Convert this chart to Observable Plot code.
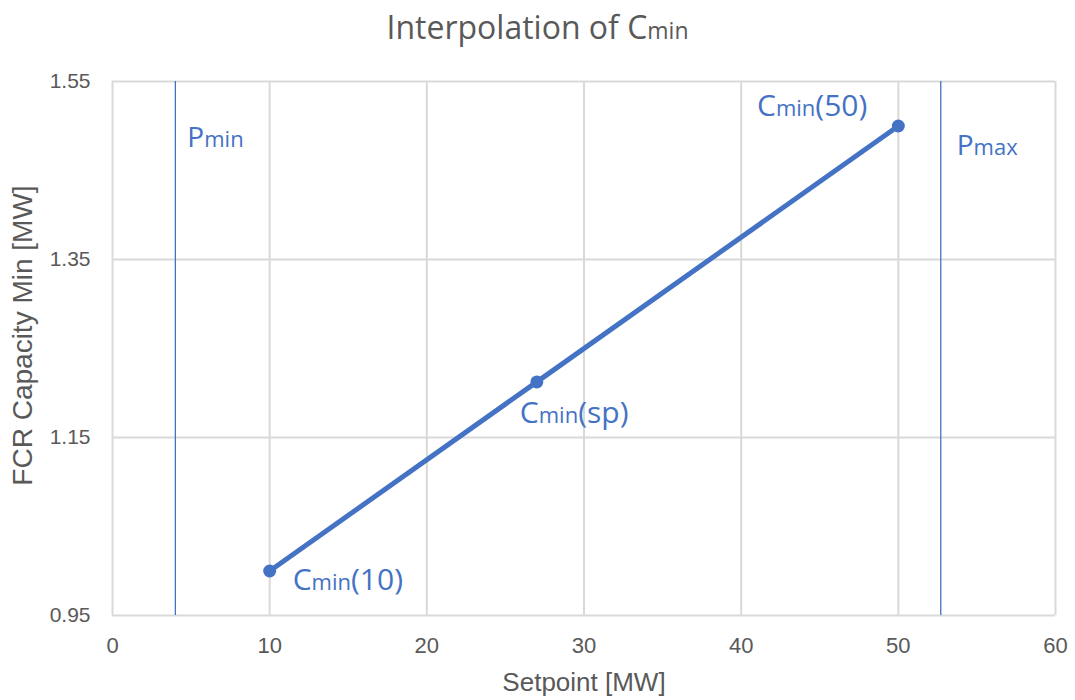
<!DOCTYPE html>
<html>
<head>
<meta charset="utf-8">
<script src="https://cdn.jsdelivr.net/npm/d3@7"></script>
<script src="https://cdn.jsdelivr.net/npm/@observablehq/plot@0.6"></script>
<style>
  html, body { margin: 0; padding: 0; background: #fff; }
  #title { height: 60px; width: 1075px; text-align: center; font-family: "Open Sans", "Noto Sans", sans-serif; font-size: 32px; color: #595959; line-height: 54px; }
  #title .sub { font-size: 23px; }
</style>
</head>
<body>
<div id="title">Interpolation of C<span class="sub">min</span></div>
<div id="chart"></div>
<script>
// Data
const setpoints = [10, 27, 50];
const cmin = [1.0, 1.2125, 1.5];
const pointLabels = ["Cmin(10)", "Cmin(sp)", "Cmin(50)"];
const limitX = [4, 52.7];
const limitLabels = ["Pmin", "Pmax"];
const limitLabelY = [1.487, 1.478];
const xTicks = [0, 10, 20, 30, 40, 50, 60];
const yTicks = [0.95, 1.15, 1.35, 1.55];
const title = "Interpolation of Cmin";
const xLabel = "Setpoint [MW]";
const yLabel = "FCR Capacity Min [MW]";

const pts = setpoints.map((x, i) => ({x, y: cmin[i], label: pointLabels[i]}));
const lims = limitX.map((x, i) => ({x, y: limitLabelY[i], label: limitLabels[i]}));

const blue = "#4472C4";
const grey = "#595959";
const labelFont = "'Open Sans', 'Noto Sans', sans-serif";
const axisFont = "'Liberation Sans', Arial, sans-serif";

const chart = Plot.plot({
  width: 1075,
  height: 640,
  marginTop: 21,
  marginBottom: 85,
  marginLeft: 112,
  marginRight: 20,
  style: {background: "#fff", overflow: "visible"},
  x: {domain: [0, 60], ticks: xTicks, label: null},
  y: {domain: [0.95, 1.55], ticks: yTicks, label: null},
  marks: [
    Plot.gridX(xTicks, {stroke: "#d9d9d9", strokeOpacity: 1, strokeWidth: 2}),
    Plot.gridY(yTicks, {stroke: "#d9d9d9", strokeOpacity: 1, strokeWidth: 2}),
    Plot.axisX(xTicks, {tickSize: 0, tickPadding: 22, fontSize: 22, fill: grey, tickFormat: d => String(d),
      fontFamily: axisFont, label: null}),
    Plot.axisY(yTicks, {tickSize: 0, tickPadding: 22, fontSize: 21, fill: grey, tickFormat: d => d.toFixed(2),
      fontFamily: axisFont, label: null}),
    Plot.ruleX(lims, {x: "x", stroke: blue, strokeWidth: 1.3}),
    Plot.line(pts, {x: "x", y: "y", stroke: blue, strokeWidth: 5}),
    Plot.dot(pts, {x: "x", y: "y", fill: blue, r: 6.5}),
    Plot.text([lims[0]], {x: "x", y: "y", text: "label", textAnchor: "start", dx: 12, fill: blue, fontSize: 28, fontFamily: labelFont}),
    Plot.text([lims[1]], {x: "x", y: "y", text: "label", textAnchor: "start", dx: 16, fill: blue, fontSize: 28, fontFamily: labelFont}),
    Plot.text([pts[0]], {x: "x", y: "y", text: "label", textAnchor: "start", dx: 23, dy: 9, fill: blue, fontSize: 30, fontFamily: labelFont}),
    Plot.text([pts[1]], {x: "x", y: "y", text: "label", textAnchor: "start", dx: -17, dy: 32, fill: blue, fontSize: 30, fontFamily: labelFont}),
    Plot.text([pts[2]], {x: "x", y: "y", text: "label", textAnchor: "end", dx: -31, dy: -20, fill: blue, fontSize: 30, fontFamily: labelFont}),
    Plot.text([xLabel], {frameAnchor: "bottom", dy: 75, fill: grey, fontSize: 26, fontFamily: axisFont}),
    Plot.text([yLabel], {frameAnchor: "left", textAnchor: "middle", rotate: -90, dx: -89, dy: -13, fill: grey, fontSize: 28, fontFamily: axisFont})
  ]
});

// Render the "min"/"max" parts in a smaller size, as in the reference
d3.select(chart).selectAll("text").each(function() {
  const el = d3.select(this);
  if (el.selectAll("tspan").size() > 0) return;
  const t = el.text();
  const m = /^([CP])(min|max)(.*)$/.exec(t);
  if (!m) return;
  el.text(null);
  el.append("tspan").text(m[1]);
  el.append("tspan").attr("font-size", 22).text(m[2]);
  if (m[3]) el.append("tspan").text(m[3]);
});

document.getElementById("chart").appendChild(chart);
</script>
</body>
</html>
